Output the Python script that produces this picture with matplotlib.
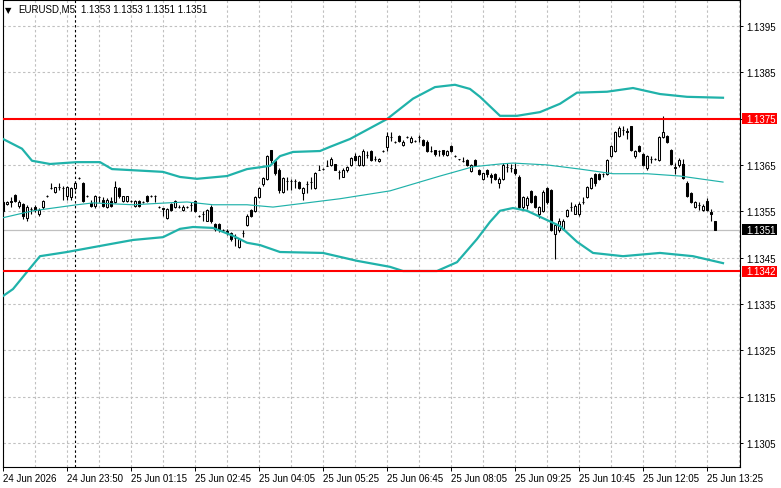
import numpy as np
import matplotlib
matplotlib.use("Agg")
import matplotlib.pyplot as plt
from matplotlib.patches import Rectangle
from matplotlib import transforms

# ---------------- data ----------------
symbol_title = "EURUSD,M5"
ohlc_title = "1.1353 1.1353 1.1351 1.1351"

opens = [
    1.13570, 1.13565, 1.13570, 1.13585, 1.13562, 1.13565, 1.13535, 1.13555, 1.13560, 1.13543,
    1.13560, 1.13582, 1.13600, 1.13592, 1.13602, 1.13600, 1.13583, 1.13580, 1.13600, 1.13622,
    1.13610, 1.13582, 1.13568, 1.13562, 1.13580, 1.13575, 1.13560, 1.13573, 1.13570, 1.13600,
    1.13572, 1.13572, 1.13573, 1.13562, 1.13573, 1.13570, 1.13583, 1.13583, 1.13583, 1.13560,
    1.13556, 1.13535, 1.13565, 1.13560, 1.13560, 1.13552, 1.13560, 1.13563, 1.13572, 1.13540,
    1.13543, 1.13530, 1.13560, 1.13523, 1.13522, 1.13510, 1.13508, 1.13502, 1.13492, 1.13472,
    1.13502, 1.13520, 1.13552, 1.13550, 1.13580, 1.13608, 1.13620, 1.13682, 1.13658, 1.13640,
    1.13592, 1.13615, 1.13615, 1.13615, 1.13613, 1.13590, 1.13608, 1.13613, 1.13600, 1.13640,
    1.13642, 1.13648, 1.13650, 1.13652, 1.13635, 1.13625, 1.13638, 1.13650, 1.13670, 1.13650,
    1.13650, 1.13672, 1.13680, 1.13663, 1.13658, 1.13680, 1.13688, 1.13710, 1.13700, 1.13712,
    1.13693, 1.13710, 1.13700, 1.13702, 1.13710, 1.13703, 1.13700, 1.13680, 1.13682, 1.13680,
    1.13682, 1.13672, 1.13690, 1.13670, 1.13662, 1.13658, 1.13660, 1.13637, 1.13660, 1.13640,
    1.13620, 1.13640, 1.13628, 1.13630, 1.13610, 1.13620, 1.13645, 1.13643, 1.13642, 1.13625,
    1.13560, 1.13563, 1.13593, 1.13583, 1.13545, 1.13550, 1.13600, 1.13595, 1.13500, 1.13510,
    1.13512, 1.13540, 1.13560, 1.13545, 1.13543, 1.13570, 1.13580, 1.13600, 1.13630, 1.13630,
    1.13630, 1.13630, 1.13670, 1.13680, 1.13712, 1.13725, 1.13723, 1.13733, 1.13670, 1.13690,
    1.13673, 1.13643, 1.13663, 1.13662, 1.13660, 1.13710, 1.13712, 1.13682, 1.13645, 1.13650,
    1.13653, 1.13612, 1.13590, 1.13560, 1.13563, 1.13553, 1.13572, 1.13548, 1.13530,
]

highs = [
    1.13575, 1.13572, 1.13580, 1.13588, 1.13575, 1.13568, 1.13563, 1.13560, 1.13563, 1.13558,
    1.13575, 1.13585, 1.13610, 1.13603, 1.13610, 1.13605, 1.13605, 1.13603, 1.13615, 1.13625,
    1.13613, 1.13585, 1.13575, 1.13585, 1.13583, 1.13580, 1.13578, 1.13580, 1.13615, 1.13603,
    1.13583, 1.13583, 1.13575, 1.13575, 1.13575, 1.13573, 1.13585, 1.13585, 1.13585, 1.13562,
    1.13558, 1.13558, 1.13568, 1.13575, 1.13563, 1.13563, 1.13562, 1.13570, 1.13575, 1.13542,
    1.13550, 1.13555, 1.13563, 1.13525, 1.13525, 1.13512, 1.13512, 1.13505, 1.13500, 1.13493,
    1.13510, 1.13543, 1.13555, 1.13582, 1.13602, 1.13625, 1.13672, 1.13683, 1.13660, 1.13643,
    1.13625, 1.13625, 1.13620, 1.13620, 1.13615, 1.13603, 1.13615, 1.13625, 1.13635, 1.13650,
    1.13643, 1.13660, 1.13668, 1.13653, 1.13640, 1.13643, 1.13648, 1.13668, 1.13675, 1.13672,
    1.13685, 1.13680, 1.13682, 1.13670, 1.13665, 1.13682, 1.13722, 1.13720, 1.13702, 1.13715,
    1.13703, 1.13712, 1.13712, 1.13703, 1.13715, 1.13705, 1.13703, 1.13690, 1.13683, 1.13683,
    1.13683, 1.13682, 1.13693, 1.13672, 1.13663, 1.13668, 1.13663, 1.13652, 1.13662, 1.13642,
    1.13633, 1.13642, 1.13633, 1.13633, 1.13623, 1.13655, 1.13655, 1.13653, 1.13655, 1.13628,
    1.13582, 1.13583, 1.13595, 1.13585, 1.13562, 1.13595, 1.13603, 1.13598, 1.13525, 1.13535,
    1.13533, 1.13555, 1.13570, 1.13565, 1.13570, 1.13580, 1.13605, 1.13625, 1.13633, 1.13632,
    1.13633, 1.13662, 1.13692, 1.13723, 1.13733, 1.13733, 1.13730, 1.13735, 1.13683, 1.13693,
    1.13675, 1.13672, 1.13670, 1.13664, 1.13712, 1.13755, 1.13715, 1.13684, 1.13655, 1.13665,
    1.13663, 1.13615, 1.13592, 1.13572, 1.13570, 1.13565, 1.13578, 1.13555, 1.13530,
]

lows = [
    1.13545, 1.13563, 1.13560, 1.13570, 1.13558, 1.13533, 1.13528, 1.13545, 1.13548, 1.13540,
    1.13555, 1.13580, 1.13598, 1.13590, 1.13595, 1.13575, 1.13575, 1.13575, 1.13595, 1.13620,
    1.13570, 1.13580, 1.13560, 1.13558, 1.13570, 1.13560, 1.13558, 1.13560, 1.13568, 1.13578,
    1.13570, 1.13570, 1.13570, 1.13560, 1.13560, 1.13568, 1.13570, 1.13580, 1.13570, 1.13558,
    1.13540, 1.13533, 1.13550, 1.13558, 1.13558, 1.13550, 1.13558, 1.13550, 1.13548, 1.13538,
    1.13530, 1.13528, 1.13525, 1.13508, 1.13505, 1.13508, 1.13498, 1.13485, 1.13475, 1.13470,
    1.13495, 1.13518, 1.13538, 1.13548, 1.13578, 1.13605, 1.13618, 1.13655, 1.13628, 1.13590,
    1.13590, 1.13595, 1.13595, 1.13600, 1.13598, 1.13575, 1.13590, 1.13598, 1.13598, 1.13638,
    1.13640, 1.13647, 1.13648, 1.13638, 1.13620, 1.13623, 1.13635, 1.13648, 1.13658, 1.13648,
    1.13648, 1.13665, 1.13658, 1.13658, 1.13657, 1.13678, 1.13680, 1.13702, 1.13698, 1.13700,
    1.13690, 1.13708, 1.13698, 1.13700, 1.13700, 1.13690, 1.13678, 1.13678, 1.13670, 1.13670,
    1.13670, 1.13670, 1.13678, 1.13668, 1.13660, 1.13657, 1.13648, 1.13635, 1.13648, 1.13628,
    1.13618, 1.13625, 1.13610, 1.13618, 1.13600, 1.13618, 1.13635, 1.13635, 1.13628, 1.13555,
    1.13552, 1.13555, 1.13568, 1.13558, 1.13535, 1.13548, 1.13565, 1.13508, 1.13446, 1.13505,
    1.13510, 1.13538, 1.13550, 1.13543, 1.13540, 1.13565, 1.13578, 1.13598, 1.13605, 1.13618,
    1.13625, 1.13628, 1.13668, 1.13678, 1.13710, 1.13715, 1.13705, 1.13680, 1.13665, 1.13678,
    1.13648, 1.13640, 1.13655, 1.13660, 1.13658, 1.13708, 1.13698, 1.13650, 1.13630, 1.13645,
    1.13620, 1.13580, 1.13568, 1.13558, 1.13552, 1.13550, 1.13550, 1.13528, 1.13510,
]

closes = [
    1.13550, 1.13570, 1.13572, 1.13572, 1.13570, 1.13540, 1.13560, 1.13555, 1.13552, 1.13553,
    1.13572, 1.13583, 1.13600, 1.13602, 1.13602, 1.13600, 1.13602, 1.13600, 1.13612, 1.13622,
    1.13572, 1.13582, 1.13562, 1.13582, 1.13580, 1.13562, 1.13575, 1.13562, 1.13603, 1.13582,
    1.13582, 1.13582, 1.13573, 1.13573, 1.13562, 1.13570, 1.13572, 1.13583, 1.13583, 1.13560,
    1.13555, 1.13555, 1.13553, 1.13572, 1.13560, 1.13560, 1.13560, 1.13563, 1.13550, 1.13540,
    1.13543, 1.13552, 1.13530, 1.13512, 1.13510, 1.13510, 1.13505, 1.13490, 1.13492, 1.13490,
    1.13502, 1.13540, 1.13540, 1.13580, 1.13600, 1.13622, 1.13670, 1.13660, 1.13632, 1.13595,
    1.13622, 1.13615, 1.13615, 1.13615, 1.13600, 1.13600, 1.13608, 1.13613, 1.13633, 1.13640,
    1.13642, 1.13648, 1.13663, 1.13640, 1.13635, 1.13640, 1.13645, 1.13665, 1.13660, 1.13670,
    1.13680, 1.13672, 1.13660, 1.13663, 1.13663, 1.13680, 1.13712, 1.13710, 1.13700, 1.13702,
    1.13700, 1.13710, 1.13708, 1.13702, 1.13710, 1.13693, 1.13680, 1.13680, 1.13673, 1.13680,
    1.13673, 1.13680, 1.13680, 1.13670, 1.13662, 1.13658, 1.13650, 1.13650, 1.13650, 1.13630,
    1.13632, 1.13630, 1.13625, 1.13620, 1.13620, 1.13650, 1.13645, 1.13643, 1.13632, 1.13560,
    1.13580, 1.13578, 1.13570, 1.13560, 1.13560, 1.13592, 1.13570, 1.13510, 1.13520, 1.13530,
    1.13528, 1.13552, 1.13560, 1.13562, 1.13565, 1.13570, 1.13602, 1.13622, 1.13610, 1.13620,
    1.13630, 1.13660, 1.13690, 1.13720, 1.13730, 1.13725, 1.13722, 1.13682, 1.13680, 1.13680,
    1.13650, 1.13670, 1.13663, 1.13662, 1.13710, 1.13720, 1.13700, 1.13652, 1.13643, 1.13660,
    1.13622, 1.13583, 1.13570, 1.13570, 1.13563, 1.13562, 1.13553, 1.13543, 1.13510,
]

# Bollinger bands (bar index, price)
upper_idx = [0, 4.75, 7.25, 11.75, 18.5, 24.25, 27.25, 40, 44.25, 48.5, 56, 61, 66.75, 69.25,
             72.5, 79.25, 81.75, 86.75, 96, 102.5, 108, 113, 116.75, 119.25, 124.25, 128.5,
             134.25, 139.25, 143.5, 151, 157.5, 164.25, 171, 180]
upper = [1.13706, 1.13685, 1.13659, 1.13652, 1.13656, 1.13656, 1.13641, 1.13635, 1.13624,
         1.13620, 1.13626, 1.13641, 1.13648, 1.13669, 1.13678, 1.13680, 1.13689, 1.13706,
         1.13749, 1.13793, 1.13818, 1.13823, 1.13814, 1.13797, 1.13756, 1.13756, 1.13764,
         1.13782, 1.13806, 1.13808, 1.13816, 1.13803, 1.13797, 1.13795]

middle_idx = [0, 7.5, 18.5, 22.5, 32.5, 41, 46, 52.5, 61, 67.5, 84.25, 96.75, 109.25, 117.5,
              124.25, 127.5, 136, 144.25, 152.5, 161, 169.25, 180]
middle = [1.13536, 1.13551, 1.13564, 1.13568, 1.13564, 1.13568, 1.13570, 1.13564, 1.13564,
          1.13559, 1.13577, 1.13594, 1.13626, 1.13646, 1.13652, 1.13654, 1.13650, 1.13641,
          1.13631, 1.13631, 1.13626, 1.13613]

lower_idx = [0, 2.5, 6, 9.25, 16, 26.75, 32.5, 40, 44.25, 47.5, 52.5, 57.5, 61, 64.25, 69.25,
             80, 88.5, 96.75, 100, 108.5, 113.5, 118.5, 121.75, 124.25, 127.5, 131, 134.25,
             139.25, 143.5, 147.5, 155, 164.25, 172.5, 180]
lower = [1.13367, 1.13382, 1.13419, 1.13453, 1.13462, 1.13479, 1.13488, 1.13494, 1.13512,
         1.13516, 1.13514, 1.13497, 1.13482, 1.13477, 1.13462, 1.13460, 1.13443, 1.13430,
         1.13421, 1.13421, 1.13440, 1.13490, 1.13527, 1.13551, 1.13557, 1.13551, 1.13538,
         1.13518, 1.13484, 1.13460, 1.13453, 1.13460, 1.13453, 1.13438]

resistance = 1.1375
support = 1.1342
bid = 1.1351
day_separator_idx = 18

price_ticks = [1.1305, 1.1315, 1.1325, 1.1335, 1.1345, 1.1355, 1.1365, 1.1375, 1.1385, 1.1395]
time_tick_idx = [0, 16, 32, 48, 64, 80, 96, 112, 128, 144, 160, 176]
time_labels = ["24 Jun 2026", "24 Jun 23:50", "25 Jun 01:15", "25 Jun 02:45", "25 Jun 04:05",
               "25 Jun 05:25", "25 Jun 06:45", "25 Jun 08:05", "25 Jun 09:25", "25 Jun 10:45",
               "25 Jun 12:05", "25 Jun 13:25"]

# ---------------- figure ----------------
plt.rcParams['font.family'] = ['Liberation Sans', 'DejaVu Sans']
W, H = 781, 489
fig = plt.figure(figsize=(W / 100, H / 100), dpi=100)
fig.patch.set_facecolor('white')
ax = fig.add_axes([2.5 / W, 1 - 467.5 / H, (740 - 2.5) / W, (467.5 - 1) / H])
ax.set_facecolor('white')
ax.set_xlim(-0.125, 184.25)
ax.set_ylim(1.12999, 1.14006)

FS = 7.0
grid_c = '#c0c0c0'
dash = (0, (2.2, 2.2))

# grid
for k in np.arange(0, 185, 8):
    ax.axvline(k, color=grid_c, lw=0.8, linestyle=dash, zorder=0)
for p in price_ticks:
    ax.axhline(p, color=grid_c, lw=0.8, linestyle=dash, zorder=0)

# bid line
ax.axhline(bid, color=grid_c, lw=0.9, zorder=1)

# day separator
ax.axvline(day_separator_idx, color='black', lw=0.8, linestyle=(0, (2.2, 2.2)), zorder=1)

# candles
o = np.array(opens); h = np.array(highs); l = np.array(lows); c = np.array(closes)
x = np.arange(len(c))
up = c >= o
ax.vlines(x, l, h, color='black', lw=0.8, zorder=3)
ax.bar(x, np.abs(c - o), bottom=np.minimum(o, c), width=0.62,
       color=np.where(up, 'white', 'black'), edgecolor='black', linewidth=0.75, zorder=4)

# bands
teal = '#20B2AA'
ax.plot(upper_idx, upper, color=teal, lw=1.6, zorder=5, solid_joinstyle='round')
ax.plot(lower_idx, lower, color=teal, lw=1.6, zorder=5, solid_joinstyle='round')
ax.plot(middle_idx, middle, color=teal, lw=0.85, zorder=5)

# level lines
ax.axhline(resistance, color='#ff0000', lw=1.5, zorder=6)
ax.axhline(support, color='#ff0000', lw=1.5, zorder=6)

# spines
for s in ax.spines.values():
    s.set_color('black')
    s.set_linewidth(0.8)

# ticks
ax.yaxis.tick_right()
ax.set_yticks(price_ticks)
ax.set_yticklabels([f"{p:.4f}" for p in price_ticks])
ax.tick_params(axis='y', direction='out', length=2.2, width=0.7, pad=2.6,
               labelsize=FS, colors='black')
ax.set_xticks(time_tick_idx)
ax.set_xticklabels(time_labels)
ax.tick_params(axis='x', direction='out', length=3, width=0.7, pad=1.8,
               labelsize=FS, colors='black')
for t in ax.get_xticklabels():
    t.set_horizontalalignment('left')

# price boxes on right axis
bt = transforms.blended_transform_factory(fig.transFigure, ax.transData)
px = 0.0000216
for val, fc in [(resistance, '#ff0000'), (support, '#ff0000'), (bid, 'black')]:
    ax.add_patch(Rectangle((741.5 / W, val - 5.3 * px), 35.5 / W, 10.6 * px,
                           transform=bt, facecolor=fc, edgecolor='none',
                           clip_on=False, zorder=10))
    ax.text(746 / W, val, f"{val:.4f}", transform=bt, color='white', fontsize=FS,
            va='center', ha='left', zorder=11, clip_on=False)

# title
fig.text(4.5 / W, 1 - 10.5 / H, "▼", fontsize=6, family='DejaVu Sans', va='center', ha='left')
fig.text(18 / W, 1 - 10 / H, symbol_title, fontsize=FS, va='center', ha='left')
fig.text(81 / W, 1 - 10 / H, ohlc_title, fontsize=FS, va='center', ha='left')

fig.savefig('out.png', dpi=100, facecolor='white')
